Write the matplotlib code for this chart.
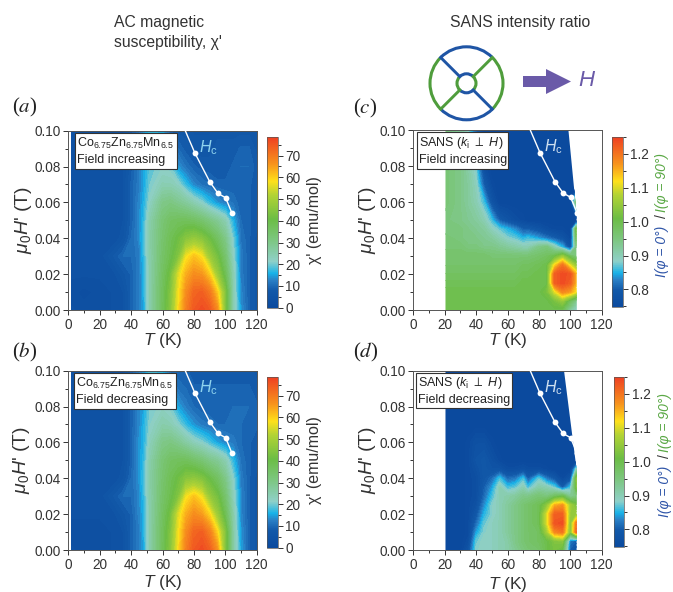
import matplotlib
matplotlib.use("Agg")
import matplotlib.pyplot as plt
import numpy as np
from matplotlib.cm import ScalarMappable
from matplotlib.colors import LinearSegmentedColormap, Normalize
from matplotlib.patches import Arc, FancyArrow, Polygon, Rectangle

plt.rcParams["font.family"] = ["Liberation Sans", "DejaVu Sans"]
plt.rcParams["mathtext.fontset"] = "custom"
plt.rcParams["mathtext.rm"] = "Liberation Sans"
plt.rcParams["mathtext.it"] = "Liberation Sans:italic"
plt.rcParams["mathtext.bf"] = "Liberation Sans:bold"

W, H = 673, 592

# Hc line
hc_T = [74.5, 80.7, 90.3, 95.4, 100.2, 104.3]
hc_H = [0.100, 0.0874, 0.0712, 0.065, 0.0626, 0.0539]

# AC susceptibility
chi_T = [2, 10, 20, 30, 35, 40, 45, 48, 52, 60, 65, 70, 75, 80, 85, 90, 95, 100, 105, 110, 115, 120]
chi_H = [0, 0.01, 0.02, 0.03, 0.04, 0.05, 0.06, 0.07, 0.08, 0.09, 0.10]
chi_inc = [
    [4, 3, 3, 4, 5, 9, 12, 15, 25, 37, 45, 58, 69, 75, 77, 75, 67, 44, 24, 14, 9, 7],
    [3, 2, 3, 4, 5, 9, 12, 16, 25, 37, 44, 57, 67, 73, 74, 70, 60, 44, 24, 13, 9, 7],
    [4, 4, 4, 5, 7, 9, 12, 16, 25, 36, 42, 55, 63, 67, 66, 60, 48, 38, 24, 12, 9, 7],
    [4, 4, 4, 8, 10, 10, 12, 17, 25, 35, 39, 44, 57, 61, 58, 48, 42, 34, 22, 12, 9, 7],
    [4, 4, 4, 4, 6, 10, 13, 18, 26, 34, 38, 41, 45, 47, 45, 41, 36, 30, 20, 11, 9, 7],
    [4, 4, 4, 4, 5, 9, 13, 17, 25, 33, 36, 37, 37, 36, 34, 31, 28, 24, 16, 10, 9, 8],
    [4, 4, 4, 4, 5, 9, 13, 16, 22, 30, 31, 29, 27, 24, 21, 17, 14, 12, 11, 9, 9, 8],
    [4, 4, 4, 4, 5, 9, 12, 15, 20, 24, 24, 22, 17, 13, 11, 10, 9, 9, 9, 9, 9, 8],
    [4, 4, 4, 4, 5, 8, 12, 15, 19, 21, 20, 14, 11, 9, 8, 8, 8, 8, 9, 10, 10, 8],
    [4, 4, 4, 4, 5, 8, 12, 14, 18, 19, 14, 10, 8, 7, 7, 7, 8, 8, 8, 9, 9, 7],
    [4, 4, 4, 4, 5, 8, 11, 14, 17, 15, 9, 7, 7, 6, 6, 6, 7, 7, 7, 7, 7, 6],
]
chi_dec = [
    [4, 3, 3, 4, 5, 9, 12, 15, 25, 37, 45, 58, 69, 75, 77, 74, 66, 44, 26, 15, 9, 7],
    [3, 3, 3, 4, 5, 9, 12, 16, 25, 37, 44, 57, 67, 73, 74, 69, 59, 44, 26, 14, 9, 7],
    [4, 4, 4, 5, 7, 9, 13, 16, 25, 36, 42, 55, 63, 67, 65, 59, 48, 38, 25, 13, 9, 7],
    [4, 4, 4, 8, 10, 10, 13, 17, 25, 35, 39, 44, 57, 61, 57, 47, 42, 34, 23, 13, 9, 7],
    [4, 4, 4, 4, 6, 10, 14, 18, 26, 34, 38, 41, 45, 46, 44, 40, 36, 30, 21, 12, 9, 7],
    [4, 4, 4, 4, 5, 9, 14, 17, 25, 33, 36, 37, 37, 35, 33, 30, 28, 24, 17, 11, 9, 8],
    [4, 4, 4, 4, 5, 9, 14, 16, 23, 30, 31, 29, 26, 23, 21, 18, 15, 13, 12, 10, 9, 8],
    [4, 4, 4, 4, 5, 9, 13, 16, 21, 25, 24, 21, 17, 14, 12, 11, 10, 10, 10, 10, 9, 9],
    [4, 4, 4, 4, 5, 9, 13, 15, 20, 22, 20, 15, 12, 10, 9, 9, 9, 9, 10, 10, 10, 9],
    [4, 4, 4, 4, 5, 9, 13, 15, 19, 20, 15, 11, 10, 9, 9, 9, 9, 9, 9, 9, 9, 8],
    [4, 4, 4, 4, 5, 9, 12, 14, 18, 16, 11, 9, 9, 8, 8, 8, 8, 8, 8, 8, 8, 7],
]

# SANS ratio
sans_T = [20, 30, 35, 40, 45, 50, 55, 60, 65, 70, 73, 80, 85, 90, 95, 100, 104]
sans_H = [0, 0.005, 0.01, 0.015, 0.02, 0.025, 0.03, 0.035, 0.04, 0.045, 0.05, 0.06, 0.07, 0.08, 0.09, 0.10]
sans_inc = [
    [1.0, 1.0, 1.0, 1.0, 1.0, 1.0, 1.0, 1.0, 1.0, 1.0, 1.0, 1.0, 1.0, 1.0, 0.99, 0.92, 0.88],
    [1.0, 1.0, 1.0, 1.0, 1.0, 1.0, 1.0, 1.0, 1.0, 1.0, 1.0, 1.0, 1.0, 1.02, 1.05, 0.98, 0.93],
    [1.0, 1.0, 1.0, 1.0, 1.0, 1.0, 1.0, 1.0, 1.0, 1.0, 1.0, 1.0, 1.02, 1.10, 1.18, 1.16, 1.11],
    [0.99, 0.99, 0.99, 0.99, 0.99, 0.99, 0.99, 0.99, 0.99, 1.0, 1.0, 1.0, 1.0, 1.22, 1.24, 1.22, 1.14],
    [0.98, 0.98, 0.98, 0.98, 0.98, 0.98, 0.98, 0.98, 0.98, 0.99, 0.99, 1.0, 1.0, 1.22, 1.24, 1.23, 1.14],
    [0.97, 0.97, 0.97, 0.97, 0.97, 0.97, 0.97, 0.97, 0.97, 0.98, 0.98, 0.99, 1.0, 1.12, 1.20, 1.10, 1.04],
    [0.97, 0.97, 0.97, 0.97, 0.97, 0.96, 0.96, 0.96, 0.96, 0.96, 0.96, 0.97, 0.98, 1.0, 1.05, 0.98, 0.95],
    [0.96, 0.96, 0.95, 0.95, 0.94, 0.94, 0.93, 0.92, 0.91, 0.90, 0.90, 0.94, 0.95, 0.90, 0.85, 0.78, 0.95],
    [0.96, 0.95, 0.94, 0.94, 0.93, 0.92, 0.90, 0.88, 0.87, 0.85, 0.86, 0.84, 0.82, 0.80, 0.78, 0.75, 1.0],
    [0.95, 0.95, 0.94, 0.93, 0.92, 0.89, 0.87, 0.85, 0.83, 0.80, 0.80, 0.78, 0.76, 0.75, 0.75, 0.74, 1.03],
    [0.95, 0.94, 0.93, 0.92, 0.90, 0.86, 0.80, 0.78, 0.76, 0.75, 0.74, 0.74, 0.74, 0.74, 0.74, 0.74, 0.74],
    [0.96, 0.94, 0.92, 0.90, 0.86, 0.78, 0.74, 0.74, 0.74, 0.74, 0.74, 0.74, 0.74, 0.74, 0.74, 0.74, 0.98],
    [0.96, 0.94, 0.92, 0.89, 0.80, 0.75, 0.74, 0.74, 0.74, 0.74, 0.74, 0.74, 0.74, 0.74, 0.74, 0.74, 0.74],
    [0.96, 0.94, 0.91, 0.87, 0.76, 0.74, 0.74, 0.74, 0.74, 0.74, 0.74, 0.74, 0.74, 0.74, 0.74, 0.74, 0.74],
    [0.96, 0.94, 0.90, 0.83, 0.75, 0.74, 0.74, 0.74, 0.74, 0.74, 0.74, 0.74, 0.74, 0.74, 0.74, 0.74, 0.74],
    [0.95, 0.92, 0.88, 0.80, 0.74, 0.74, 0.74, 0.74, 0.74, 0.74, 0.74, 0.74, 0.74, 0.74, 0.74, 0.74, 0.74],
]
sans_dec = [
    [0.74, 0.74, 0.78, 0.88, 0.89, 0.89, 0.90, 0.91, 0.93, 0.95, 0.96, 0.97, 1.0, 1.02, 1.0, 0.80, 0.78],
    [0.74, 0.74, 0.76, 0.87, 0.89, 0.89, 0.90, 0.91, 0.94, 0.96, 0.97, 0.98, 1.0, 1.03, 1.04, 0.82, 0.80],
    [0.74, 0.74, 0.75, 0.84, 0.88, 0.89, 0.90, 0.92, 0.94, 0.96, 0.97, 0.98, 1.06, 1.18, 1.20, 1.03, 1.22],
    [0.74, 0.74, 0.75, 0.81, 0.87, 0.89, 0.90, 0.92, 0.94, 0.96, 0.97, 0.99, 1.10, 1.23, 1.24, 1.03, 1.20],
    [0.74, 0.74, 0.75, 0.79, 0.85, 0.88, 0.90, 0.92, 0.94, 0.96, 0.97, 0.99, 1.10, 1.22, 1.22, 1.05, 1.05],
    [0.74, 0.74, 0.75, 0.77, 0.83, 0.88, 0.90, 0.92, 0.94, 0.96, 0.97, 0.99, 1.04, 1.15, 1.17, 1.06, 1.02],
    [0.74, 0.74, 0.75, 0.76, 0.81, 0.86, 0.90, 0.91, 0.92, 0.94, 0.94, 0.96, 0.95, 0.98, 1.0, 0.93, 0.95],
    [0.74, 0.74, 0.75, 0.76, 0.80, 0.84, 0.90, 0.86, 0.87, 0.90, 0.86, 0.91, 0.90, 0.87, 0.80, 0.86, 1.03],
    [0.74, 0.74, 0.75, 0.76, 0.79, 0.81, 0.86, 0.81, 0.82, 0.86, 0.80, 0.87, 0.82, 0.79, 0.75, 0.78, 1.05],
    [0.74, 0.74, 0.75, 0.77, 0.79, 0.78, 0.78, 0.76, 0.76, 0.77, 0.76, 0.76, 0.75, 0.74, 0.74, 0.74, 0.90],
    [0.74, 0.74, 0.75, 0.78, 0.79, 0.77, 0.75, 0.74, 0.74, 0.74, 0.74, 0.74, 0.74, 0.74, 0.74, 0.74, 0.74],
    [0.74, 0.74, 0.75, 0.77, 0.77, 0.75, 0.74, 0.74, 0.74, 0.74, 0.74, 0.74, 0.74, 0.74, 0.74, 0.74, 0.74],
    [0.74, 0.74, 0.74, 0.74, 0.74, 0.74, 0.74, 0.74, 0.74, 0.74, 0.74, 0.74, 0.74, 0.74, 0.74, 0.74, 0.74],
    [0.74, 0.74, 0.74, 0.74, 0.74, 0.74, 0.74, 0.74, 0.74, 0.74, 0.74, 0.74, 0.74, 0.74, 0.74, 0.74, 0.74],
    [0.74, 0.74, 0.74, 0.74, 0.74, 0.74, 0.74, 0.74, 0.74, 0.74, 0.74, 0.74, 0.74, 0.74, 0.74, 0.74, 0.74],
    [0.74, 0.74, 0.74, 0.74, 0.74, 0.74, 0.74, 0.74, 0.74, 0.74, 0.74, 0.74, 0.74, 0.74, 0.74, 0.74, 0.74],
]
# outline of the measured SANS region (T, H)
edge_inc = [(20.5, 0), (20.5, 0.1), (98.8, 0.1), (103.8, 0.055), (104, 0)]
edge_dec = [(20.5, 0), (20.5, 0.1), (96, 0.1), (104, 0.045), (104, 0)]

chi_ticks = [0, 10, 20, 30, 40, 50, 60, 70]
sans_ticks = [0.8, 0.9, 1.0, 1.1, 1.2]

cmap = LinearSegmentedColormap.from_list("origin", [
    (0.0, "#0b4a9e"), (0.10, "#1259a9"), (0.16, "#2a80c6"), (0.20, "#18b2e8"),
    (0.27, "#8fd0c8"), (0.40, "#7cc67e"), (0.52, "#6cbd45"), (0.66, "#b3d334"),
    (0.74, "#ffe01a"), (0.84, "#f7941d"), (1.0, "#ee4023"),
])

fig = plt.figure(figsize=(W / 100, H / 100), dpi=100)
dark = "#333333"


def px_axes(l, t, r, b):
    return fig.add_axes([l / W, 1 - b / H, (r - l) / W, (b - t) / H])


def ftext(x, y, s, **kw):
    kw.setdefault("ha", "center")
    kw.setdefault("va", "center")
    kw.setdefault("color", dark)
    return fig.text(x / W, 1 - y / H, s, **kw)


def draw_panel(box, T, Hf, Z, vmin, vmax, box_px, label1, label2, hc_color, edge=None):
    ax = px_axes(*box)
    levels = np.linspace(vmin, vmax, 64)
    cf = ax.contourf(T, Hf, np.array(Z), levels=levels, cmap=cmap, extend="both")
    if edge is not None:
        clip = Polygon(edge, closed=True, transform=ax.transData)
        cf.set_clip_path(clip)
    ax.set_xlim(0, 120)
    ax.set_ylim(0, 0.1)
    ax.set_xticks(range(0, 121, 20))
    ax.set_xticks(range(10, 120, 20), minor=True)
    ax.set_yticks([0, 0.02, 0.04, 0.06, 0.08, 0.10])
    ax.set_yticklabels(["0.00", "0.02", "0.04", "0.06", "0.08", "0.10"])
    ax.set_yticks(np.arange(0.01, 0.1, 0.02), minor=True)
    ax.tick_params(labelsize=9.8, colors=dark, length=3.5, width=0.7, pad=2)
    ax.tick_params(which="minor", length=2, width=0.7, colors=dark)
    for s in ax.spines.values():
        s.set_color("#555555")
        s.set_linewidth(0.7)
    ax.plot(hc_T, hc_H, color="white", lw=1, zorder=5)
    ax.plot(hc_T[1:], hc_H[1:], "o", color="white", ms=4.2, mec="none", zorder=6)
    # label box, given in figure pixels
    l, t, r, b = box_px
    fig.add_artist(Rectangle((l / W, 1 - b / H), (r - l) / W, (b - t) / H, transform=fig.transFigure,
                             fc="white", ec="#333333", lw=0.8, zorder=8))
    ftext(l + 2, t + 10.5, label1, ha="left", fontsize=9, zorder=9, color="#222222")
    ftext(l + 2, t + 27, label2, ha="left", fontsize=9, zorder=9, color="#222222")
    ftext(box[0] + 140, box[1] + 17, r"$\mathit{H}_{\mathrm{c}}$", fontsize=11.5, color=hc_color, zorder=9)
    return cf


def draw_cbar(vmin, vmax, box, ticks, minor):
    cax = px_axes(*box)
    sm = ScalarMappable(Normalize(vmin, vmax), cmap)
    cb = fig.colorbar(sm, cax=cax)
    cb.set_ticks(ticks)
    cb.ax.set_yticks(minor, minor=True)
    cb.ax.tick_params(labelsize=9.8, colors=dark, length=3.5, width=0.7, pad=2)
    cb.ax.tick_params(which="minor", length=2, width=0.7, colors=dark)
    cb.outline.set_edgecolor("#555555")
    cb.outline.set_linewidth(0.5)
    return cb


co_label = r"Co$_{6.75}$Zn$_{6.75}$Mn$_{6.5}$"
sans_label = r"SANS ($\mathit{k}_{\mathrm{i}}$ $\perp$ $\mathit{H}$)"

draw_panel((68.3, 130.7, 256.7, 310), chi_T, chi_H, chi_inc, 0, 78.7, (75, 133, 176.5, 169),
           co_label, "Field increasing", "#8fd3ee")
draw_panel((68.3, 370.7, 256.7, 550), chi_T, chi_H, chi_dec, 0, 78.7, (74, 373, 176, 408.5),
           co_label, "Field decreasing", "#8fd3ee")
draw_panel((413.3, 130, 601.7, 310), sans_T, sans_H, sans_inc, 0.747, 1.251, (417, 132.5, 508, 168.5),
           sans_label, "Field increasing", "#cfe0f0", edge_inc)
draw_panel((413.3, 370.7, 601.7, 550), sans_T, sans_H, sans_dec, 0.747, 1.251, (416, 372.5, 512, 408),
           sans_label, "Field decreasing", "#cfe0f0", edge_dec)

chi_minor = list(range(5, 78, 10))
sans_minor = [0.75, 0.85, 0.95, 1.05, 1.15, 1.25]
draw_cbar(0, 78.7, (267.3, 136.7, 277.7, 307.7), chi_ticks, chi_minor)
draw_cbar(0, 78.7, (267.3, 376.7, 277.7, 547.7), chi_ticks, chi_minor)
draw_cbar(0.747, 1.251, (612.3, 136.7, 622.7, 307.3), sans_ticks, sans_minor)
draw_cbar(0.747, 1.251, (614, 376.7, 624.3, 547.3), sans_ticks, sans_minor)

# axis labels
xlab = r"$\mathit{T}$ (K)"
ylab = r"$\mu_0\mathit{H}$' (T)"
ftext(163, 341, xlab, fontsize=12.5)
ftext(163, 582, xlab, fontsize=12.5)
ftext(508, 341, xlab, fontsize=12.5)
ftext(508, 584, xlab, fontsize=12.5)
ftext(24, 220, ylab, fontsize=14, rotation=90)
ftext(21, 460, ylab, fontsize=14, rotation=90)
ftext(368, 220, ylab, fontsize=14, rotation=90)
ftext(368, 460, ylab, fontsize=14, rotation=90)

chi_lab = "\u03c7' (emu/mol)"
ftext(315, 220, chi_lab, fontsize=11.5, rotation=90)
ftext(315, 460, chi_lab, fontsize=11.5, rotation=90)

for lx, ly0, ly1, ly2 in [(662, 251, 216, 183), (665, 491, 456, 423)]:
    ftext(lx, ly0, "I(\u03c6 = 0\u00b0)", fontsize=10, rotation=90, color="#2f55a8", style="italic")
    ftext(lx, ly1, "/", fontsize=10, rotation=90, color=dark)
    ftext(lx, ly2, "I(\u03c6 = 90\u00b0)", fontsize=10, rotation=90, color="#5aa845", style="italic")

# panel letters
for x, y, s in [(25, 107, "(a)"), (25, 352, "(b)"), (365, 108, "(c)"), (366, 352, "(d)")]:
    t = ftext(x, y, s[0] + "$\\mathit{" + s[1] + "}$" + s[2], fontsize=15, color="#222222",
              family="Liberation Serif")
    t.set_math_fontfamily("stix")

# headings
ftext(114, 23, "AC magnetic", ha="left", fontsize=11.3)
ftext(114, 43, "susceptibility, \u03c7'", ha="left", fontsize=11.3)
ftext(520, 23, "SANS intensity ratio", fontsize=11.3)

# detector sketch
sk = fig.add_axes([0, 0, 1, 1], zorder=-1)
sk.set_xlim(0, W)
sk.set_ylim(H, 0)
sk.axis("off")
cx, cy = 466.5, 83.3
blue, green = "#1f55a5", "#4f9d3c"
R, r = 36.5, 9.5
d = np.sqrt(0.5)
for a, col in [(45, blue), (135, green), (225, blue), (315, green)]:
    sk.add_patch(Arc((cx, cy), 2 * R, 2 * R, theta1=a, theta2=a + 90, color=col, lw=2.2))
    sk.add_patch(Arc((cx, cy), 2 * r, 2 * r, theta1=a, theta2=a + 90, color=col, lw=2.2))
for sx, sy, col in [(-1, -1, blue), (1, 1, blue), (1, -1, green), (-1, 1, green)]:
    sk.plot([cx + sx * r * d, cx + sx * R * d], [cy + sy * r * d, cy + sy * R * d], color=col, lw=2.1)
sk.add_patch(FancyArrow(523, 81.5, 48, 0, width=11, head_width=25, head_length=25,
                        length_includes_head=True, fc="#6a5aa8", ec="none"))
sk.text(587, 81, r"$\mathit{H}$", fontsize=16, color="#6a5aa8", ha="center", va="center")

fig.savefig("out.png", dpi=100)
plt.close(fig)
